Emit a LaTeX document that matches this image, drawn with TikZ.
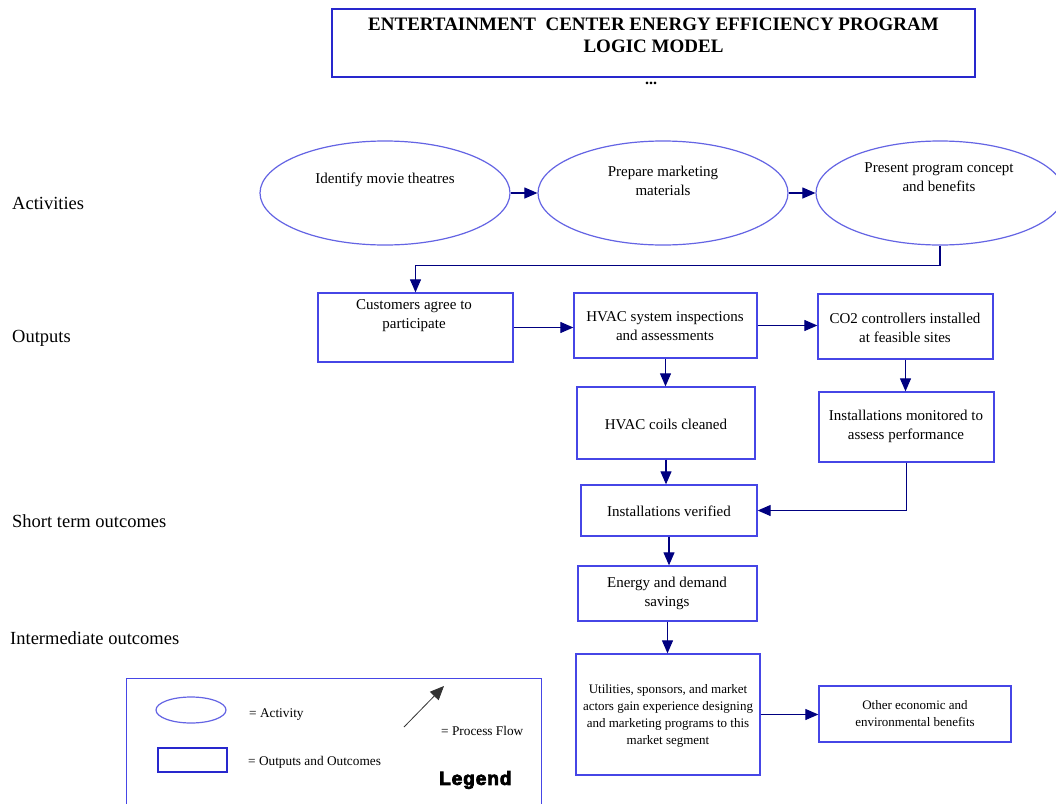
\documentclass[tikz,border=0pt]{standalone}
\usepackage{fontspec}
\setmainfont{Liberation Serif}
\newfontfamily\legendfont[LetterSpace=5,BoldFeatures={FakeBold=4}]{Liberation Sans}
\usetikzlibrary{arrows.meta,shapes.geometric}
\definecolor{boxblue}{RGB}{70,70,230}
\definecolor{titleblue}{RGB}{40,40,205}
\definecolor{ellblue}{RGB}{100,100,228}
\definecolor{flownavy}{RGB}{0,0,128}
\begin{document}
\begin{tikzpicture}[x=1pt,y=-1pt,
  box/.style={draw=boxblue,line width=1.3pt,rectangle,inner sep=0pt},
  act/.style={draw=ellblue,line width=1.2pt,ellipse,inner sep=0pt},
  txt/.style={align=center,inner sep=0pt,font=\fontsize{15}{19}\selectfont},
  smalltxt/.style={align=center,inner sep=0pt,font=\fontsize{13}{17}\selectfont},
  legtxt/.style={anchor=west,inner sep=0pt,font=\fontsize{13.3}{16}\selectfont},
  lane/.style={anchor=west,inner sep=0pt,font=\fontsize{18.5}{22}\selectfont},
  flow/.style={draw=flownavy,line width=1.1pt,-{Triangle[length=13pt,width=11pt]}}]
\useasboundingbox (0,0) rectangle (1056,803);
\clip (0,0) rectangle (1056,803);
\fill[white] (0,0) rectangle (1056,803);

% title
\node[box,draw=titleblue,minimum width=643pt,minimum height=68pt] (title) at (653.5,43) {};
\node[align=center,inner sep=0pt,font=\bfseries\fontsize{19}{22}\selectfont] (titletxt) at (653.5,35)
  {ENTERTAINMENT\ \ CENTER ENERGY EFFICIENCY PROGRAM\\LOGIC MODEL};
\node[inner sep=0pt,font=\bfseries\fontsize{16}{18}\selectfont] (dots) at (651,83) {...};

% lane labels
\node[lane] (l1) at (12,203) {Activities};
\node[lane] (l2) at (12,338) {Outputs};
\node[lane] (l3) at (12,521) {Short term outcomes};
\node[lane] (l4) at (10,638) {Intermediate outcomes};

% activities
\node[act,minimum width=250pt,minimum height=104pt] (e1) at (385,193) {};
\node[act,minimum width=250pt,minimum height=104pt] (e2) at (663,193) {};
\node[act,minimum width=248pt,minimum height=104pt] (e3) at (940,193) {};
\node[txt] (e1t) at (385,180) {Identify movie theatres};
\node[txt] (e2t) at (663,181) {Prepare marketing\\materials};
\node[txt] (e3t) at (939,177) {Present program concept\\and benefits};

% outputs and outcomes
\node[box,minimum width=195pt,minimum height=69pt] (cust) at (415.5,327.5) {};
\node[box,minimum width=183pt,minimum height=65pt] (insp) at (665.5,325.5) {};
\node[box,minimum width=175pt,minimum height=65pt] (co2) at (905.5,326.5) {};
\node[box,minimum width=178pt,minimum height=72pt] (coils) at (666,423) {};
\node[box,minimum width=175pt,minimum height=70pt] (mon) at (906.5,427) {};
\node[box,minimum width=176pt,minimum height=51pt] (ver) at (669,510.5) {};
\node[box,minimum width=179pt,minimum height=55pt] (save) at (667.5,593.5) {};
\node[box,minimum width=184pt,minimum height=121pt] (util) at (668,714.5) {};
\node[box,minimum width=192pt,minimum height=56pt] (other) at (915,714) {};

\node[txt] (custt) at (414,315.5) {Customers agree to\\participate};
\node[txt] (inspt) at (665,326.5) {HVAC system inspections\\and assessments};
\node[txt] (co2t) at (905,327.5) {CO2 controllers installed\\at feasible sites};
\node[txt] (coilst) at (666,424) {HVAC coils cleaned};
\node[txt] (mont) at (906,426.5) {Installations monitored to\\assess performance};
\node[txt] (vert) at (669,511) {Installations verified};
\node[txt] (savet) at (667,593.5) {Energy and demand\\savings};
\node[smalltxt] (utilt) at (668,715.5) {Utilities, sponsors, and market\\actors gain experience designing\\and marketing programs to this\\market segment};
\node[smalltxt] (othert) at (915,713.5) {Other economic and\\environmental benefits};

% process flow
\draw[flow] (e1.east) -- (e2.west);
\draw[flow] (e2.east) -- (e3.west);
\draw[flow] (e3.south) -- ++(0,20) -| (cust.north);
\draw[flow] (cust.east) -- (cust.east -| insp.west);
\draw[flow] (insp.east) -- (insp.east -| co2.west);
\draw[flow] (insp.south) -- (insp.south |- coils.north);
\draw[flow] (co2.south) -- (co2.south |- mon.north);
\draw[flow] (coils.south) -- (coils.south |- ver.north);
\draw[flow] (mon.south) |- (ver.east);
\draw[flow] (ver.south) -- (ver.south |- save.north);
\draw[flow] (save.south) -- (save.south |- util.north);
\draw[flow] (util.east) -- (util.east -| other.west);

% legend
\node[box,minimum width=415pt,minimum height=140pt,anchor=north west] (legend) at (126,677.5) {};
\node[act,minimum width=70pt,minimum height=26pt] (legell) at (191,710) {};
\node[box,draw=titleblue,minimum width=69pt,minimum height=24pt] (legbox) at (192.5,760) {};
\node[legtxt] (legellt) at (249,715) {= Activity};
\node[legtxt] (legboxt) at (248,762) {= Outputs and Outcomes};
\coordinate (legfrom) at (404,727);
\coordinate (legto) at (444,686);
\draw[draw=black!80,line width=0.8pt,-{Triangle[length=14pt,width=12pt]}] (legfrom) -- (legto);
\node[legtxt] (legflowt) at (441,731) {= Process Flow};
\node[anchor=west,inner sep=0pt,font=\legendfont\bfseries\fontsize{19}{22}\selectfont] (legtitle) at (439,780) {Legend};
\end{tikzpicture}
\end{document}
